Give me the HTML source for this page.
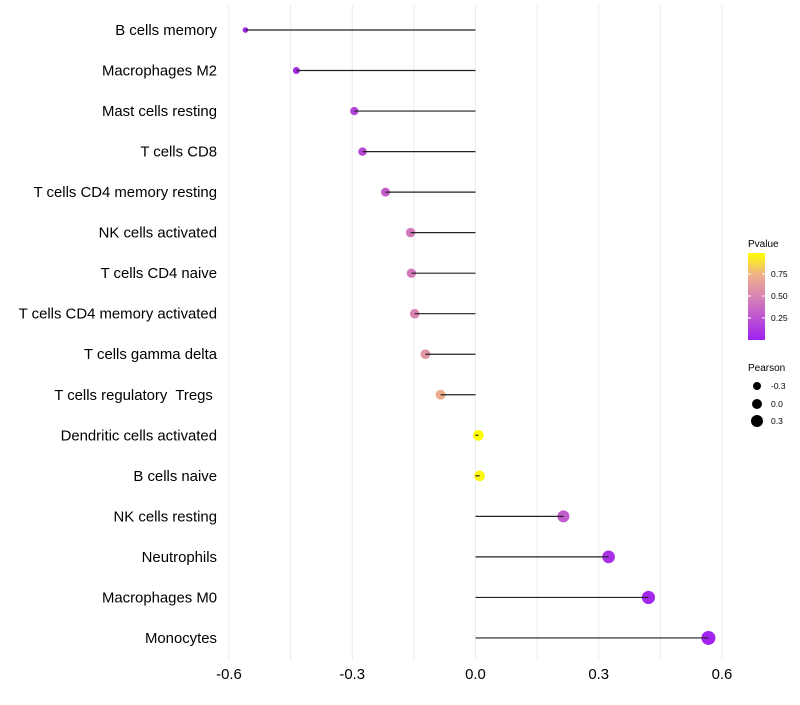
<!DOCTYPE html>
<html><head><meta charset="utf-8"><style>
body{margin:0;background:#fff;font-family:"Liberation Sans",sans-serif;}
text{white-space:pre;}
</style></head><body>
<svg id="chart" width="800" height="700" xmlns="http://www.w3.org/2000/svg" font-family="Liberation Sans, sans-serif">
<defs><linearGradient id="pg" x1="0" y1="1" x2="0" y2="0">
<stop offset="0" stop-color="#a020f0"/><stop offset="0.5" stop-color="#d884b4"/><stop offset="0.75" stop-color="#eeb08a"/><stop offset="1" stop-color="#ffff00"/></linearGradient></defs>
<g id="grid"></g><g id="marks"></g><g id="labels"></g>
<g>
<text x="748" y="247" font-size="10">Pvalue</text>
<rect x="748" y="253" width="17" height="87" fill="url(#pg)"/>
<line x1="748" y1="318" x2="751" y2="318" stroke="#fff"/><line x1="762" y1="318" x2="765" y2="318" stroke="#fff"/>
<line x1="748" y1="296" x2="751" y2="296" stroke="#fff"/><line x1="762" y1="296" x2="765" y2="296" stroke="#fff"/>
<line x1="748" y1="274" x2="751" y2="274" stroke="#fff"/><line x1="762" y1="274" x2="765" y2="274" stroke="#fff"/>
<text x="771" y="277" font-size="8.5">0.75</text>
<text x="771" y="299" font-size="8.5">0.50</text>
<text x="771" y="321" font-size="8.5">0.25</text>
</g>
<g>
<text x="748" y="371" font-size="10">Pearson</text>
<circle cx="757" cy="386" r="4" fill="#000"/><text x="771" y="389" font-size="8.5">-0.3</text>
<circle cx="757" cy="404" r="5" fill="#000"/><text x="771" y="407" font-size="8.5">0.0</text>
<circle cx="757" cy="421" r="6" fill="#000"/><text x="771" y="424" font-size="8.5">0.3</text>
</g>
</svg>
<script>
const categories=["B cells memory","Macrophages M2","Mast cells resting","T cells CD8","T cells CD4 memory resting","NK cells activated","T cells CD4 naive","T cells CD4 memory activated","T cells gamma delta","T cells regulatory  Tregs ","Dendritic cells activated","B cells naive","NK cells resting","Neutrophils","Macrophages M0","Monocytes"];
const pearson=[-0.56,-0.436,-0.295,-0.275,-0.219,-0.158,-0.156,-0.148,-0.122,-0.085,0.007,0.01,0.214,0.324,0.421,0.567];
const pvalue=[0.02,0.05,0.18,0.2,0.3,0.45,0.45,0.5,0.6,0.73,1.0,0.97,0.3,0.08,0.04,0.02];
const xTicks=[-0.6,-0.3,0,0.3,0.6];
const xTickLabels=["-0.6","-0.3","0.0","0.3","0.6"];
const xMinor=[-0.45,-0.15,0.15,0.45];
const NS="http://www.w3.org/2000/svg";
function xs(v){return 475.5+v*410.8;}
function ys(i){return 30+i*40.53;}
function rs(v){return Math.sqrt(Math.max(3,28.2+36.6*v));}
const stops=[[0,[160,32,240]],[0.5,[216,132,180]],[0.75,[238,176,138]],[1,[255,255,0]]];
function col(p){
 for(let k=0;k<stops.length-1;k++){const [p0,c0]=stops[k],[p1,c1]=stops[k+1];
  if(p<=p1||k==stops.length-2){const t=Math.min(1,Math.max(0,(p-p0)/(p1-p0)));
   return `rgb(${c0.map((x,j)=>Math.round(x+(c1[j]-x)*t)).join(',')})`;}}
}
function mk(tag,attrs,parent){const e=document.createElementNS(NS,tag);for(const k in attrs)e.setAttribute(k,attrs[k]);parent.appendChild(e);return e;}
const grid=document.getElementById('grid'),marks=document.getElementById('marks'),labels=document.getElementById('labels');
xTicks.concat(xMinor).forEach(v=>{const l=mk('line',{x1:xs(v),x2:xs(v),y1:5,y2:660,stroke:'#ebebeb','stroke-width':1},grid);

});
xTicks.forEach((v,i)=>{const t=mk('text',{x:xs(v),y:679,'font-size':14.9,'text-anchor':'middle',fill:'#000'},labels);t.textContent=xTickLabels[i];

});
categories.forEach((c,i)=>{
 const t=mk('text',{x:217,y:ys(i)+5,'font-size':14.9,'text-anchor':'end',fill:'#000'},labels);t.textContent=c;
 
 
 const p=mk('circle',{cx:xs(pearson[i]),cy:ys(i),r:rs(pearson[i]),fill:col(pvalue[i])},marks);
 
 
 const s=mk('line',{x1:xs(0),x2:xs(pearson[i]),y1:ys(i),y2:ys(i),stroke:'#222','stroke-width':1.2},marks);
 
 
});
</script>
</body></html>
